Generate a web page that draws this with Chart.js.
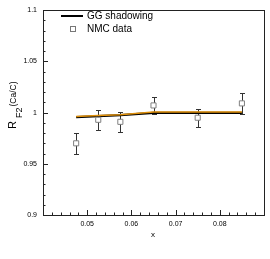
<!DOCTYPE html>
<html>
<head>
<meta charset="utf-8">
<script src="https://cdn.jsdelivr.net/npm/chart.js@4"></script>
<style>
  html, body { margin: 0; padding: 0; background: #fff; }
  #wrap { width: 270px; height: 259px; }
</style>
</head>
<body>
<div id="wrap"><canvas id="c" width="270" height="259"></canvas></div>
<script>
// model curve
const ggX = [0.0475, 0.0525, 0.0575, 0.065, 0.075, 0.085];
const ggY = [0.9956, 0.9966, 0.9975, 0.9998, 0.9998, 0.9998];
// orange curve sitting right on top of it
const orX = [0.0475, 0.0525, 0.0575, 0.065, 0.075, 0.085];
const orY = [0.9962, 0.9971, 0.9980, 1.0005, 1.0005, 1.0005];
// NMC data with errors
const nmcX = [0.0475, 0.0525, 0.0575, 0.065, 0.075, 0.085];
const nmcY = [0.970, 0.993, 0.991, 1.007, 0.995, 1.009];
const nmcErr = [0.010, 0.010, 0.010, 0.008, 0.009, 0.010];

const xMajor = [0.05, 0.06, 0.07, 0.08];
const yMajor = [0.9, 0.95, 1, 1.05, 1.1];

const FONT = 'Liberation Sans, Arial, sans-serif';

function near(v, list) {
  return list.some(m => Math.abs(v - m) < 1e-6);
}

const axisPlugin = {
  id: 'axisStuff',
  beforeDatasetsDraw(chart) {
    const ctx = chart.ctx;
    const xs = chart.scales.x, ys = chart.scales.y;
    ctx.save();
    // error bars
    ctx.strokeStyle = '#333';
    ctx.lineWidth = 1;
    for (let i = 0; i < nmcX.length; i++) {
      const px = Math.round(xs.getPixelForValue(nmcX[i])) + 0.5;
      const y1 = Math.round(ys.getPixelForValue(nmcY[i] + nmcErr[i])) + 0.5;
      const y2 = Math.round(ys.getPixelForValue(nmcY[i] - nmcErr[i])) + 0.5;
      ctx.beginPath();
      ctx.moveTo(px, y1); ctx.lineTo(px, y2);
      ctx.moveTo(px - 2.5, y1); ctx.lineTo(px + 2.5, y1);
      ctx.moveTo(px - 2.5, y2); ctx.lineTo(px + 2.5, y2);
      ctx.stroke();
    }
    ctx.restore();
  },
  afterDraw(chart) {
    const ctx = chart.ctx;
    const xs = chart.scales.x, ys = chart.scales.y;
    const a = chart.chartArea;
    ctx.save();
    // frame
    ctx.strokeStyle = '#222';
    ctx.lineWidth = 1;
    ctx.strokeRect(Math.round(a.left) + 0.5, Math.round(a.top) + 0.5,
      Math.round(a.right - a.left), Math.round(a.bottom - a.top));
    // inward ticks
    ctx.beginPath();
    xs.ticks.forEach(t => {
      const px = Math.round(xs.getPixelForValue(t.value)) + 0.5;
      const len = near(t.value, xMajor) ? 5 : 2.5;
      ctx.moveTo(px, a.bottom); ctx.lineTo(px, a.bottom - len);
    });
    ys.ticks.forEach(t => {
      const py = Math.round(ys.getPixelForValue(t.value)) + 0.5;
      const len = near(t.value, yMajor) ? 5 : 2.5;
      ctx.moveTo(a.left, py); ctx.lineTo(a.left + len, py);
    });
    ctx.stroke();

    // legend
    ctx.strokeStyle = '#000';
    ctx.lineWidth = 2;
    ctx.beginPath();
    ctx.moveTo(61, 16); ctx.lineTo(83, 16);
    ctx.stroke();
    ctx.strokeStyle = '#777';
    ctx.lineWidth = 1;
    ctx.fillStyle = '#fff';
    ctx.fillRect(70.5, 26.5, 5, 5);
    ctx.strokeRect(70.5, 26.5, 5, 5);
    ctx.fillStyle = '#000';
    ctx.font = '10px ' + FONT;
    ctx.textBaseline = 'middle';
    ctx.textAlign = 'left';
    ctx.fillText('GG shadowing', 87, 16);
    ctx.fillText('NMC data', 87, 29);

    // x title
    ctx.textAlign = 'center';
    ctx.font = '8px ' + FONT;
    ctx.fillText('x', 153, 235);

    // y title: R_F2^(Ca/C), rotated
    ctx.translate(16, 129);
    ctx.rotate(-Math.PI / 2);
    ctx.textAlign = 'left';
    ctx.textBaseline = 'alphabetic';
    ctx.font = '11px ' + FONT;
    ctx.fillText('R', 0, 0);
    const rw = ctx.measureText('R').width;
    ctx.font = '9px ' + FONT;
    ctx.fillText('F2', rw + 3, 6);
    const fw = ctx.measureText('F2').width;
    ctx.font = '8.5px ' + FONT;
    ctx.fillText('(Ca/C)', rw + 3 + fw + 1, 0);
    ctx.restore();
  }
};

const data = {
  datasets: [
    {
      label: 'GG shadowing',
      data: ggX.map((x, i) => ({ x: x, y: ggY[i] })),
      borderColor: '#000',
      borderWidth: 2.2,
      pointRadius: 0,
      showLine: true,
      order: 3
    },
    {
      label: 'orange',
      data: orX.map((x, i) => ({ x: x, y: orY[i] })),
      borderColor: '#e0900a',
      borderWidth: 1.5,
      pointRadius: 0,
      showLine: true,
      order: 2
    },
    {
      label: 'NMC data',
      data: nmcX.map((x, i) => ({ x: x, y: nmcY[i] })),
      showLine: false,
      pointStyle: 'rect',
      pointRadius: 3.6,
      pointBorderWidth: 1,
      pointBorderColor: '#808080',
      pointBackgroundColor: '#fff',
      order: 1
    }
  ]
};

const config = {
  type: 'scatter',
  data: data,
  options: {
    responsive: false,
    animation: false,
    events: [],
    layout: { padding: { top: 5, right: 6, left: 0, bottom: 0 } },
    plugins: { legend: { display: false }, tooltip: { enabled: false } },
    scales: {
      x: {
        type: 'linear',
        min: 0.04,
        max: 0.09,
        grid: { display: false, drawTicks: false },
        border: { display: false },
        afterBuildTicks(s) {
          const t = [];
          for (let k = 0; k <= 25; k++) t.push({ value: 0.04 + k * 0.002 });
          s.ticks = t;
        },
        afterFit(s) { s.height = 44; },
        ticks: {
          autoSkip: false,
          maxRotation: 0,
          padding: 5,
          color: '#000',
          font: { family: FONT, size: 7 },
          callback: v => near(v, xMajor) ? (Math.round(v * 100) / 100).toString() : ''
        }
      },
      y: {
        type: 'linear',
        min: 0.9,
        max: 1.1,
        grid: { display: false, drawTicks: false },
        border: { display: false },
        afterBuildTicks(s) {
          const t = [];
          for (let k = 0; k <= 20; k++) t.push({ value: 0.9 + k * 0.01 });
          s.ticks = t;
        },
        afterFit(s) { s.width = 43; },
        ticks: {
          autoSkip: false,
          padding: 6,
          color: '#000',
          font: { family: FONT, size: 7 },
          callback: v => near(v, yMajor) ? (Math.round(v * 100) / 100).toString() : ''
        }
      }
    }
  },
  plugins: [axisPlugin]
};

var myChart = new Chart(document.getElementById('c'), config);
</script>
</body>
</html>
